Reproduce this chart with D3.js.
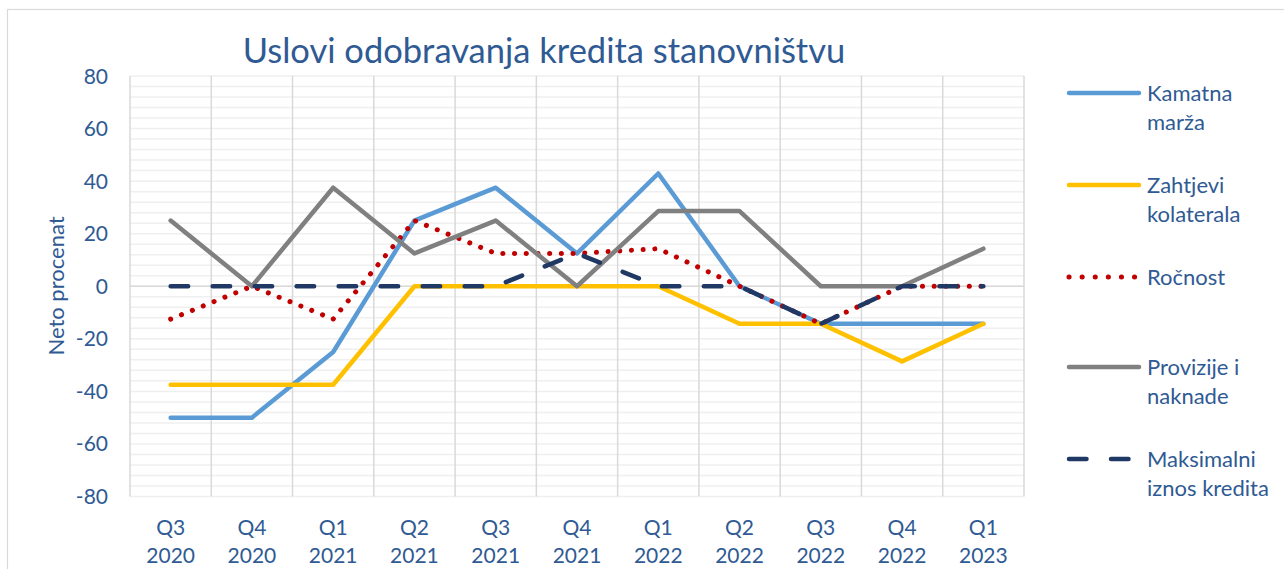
<!DOCTYPE html>
<html>
<head>
<meta charset="utf-8">
<script src="https://cdn.jsdelivr.net/npm/d3@7"></script>
<style>
  html, body { margin: 0; padding: 0; background: #fff; }
  svg { display: block; font-family: Lato, 'Open Sans', sans-serif; }
</style>
</head>
<body>
<div id="chart"></div>
<script>
// Uslovi odobravanja kredita stanovništvu — neto procenat po kvartalima
const quarters = ['Q3', 'Q4', 'Q1', 'Q2', 'Q3', 'Q4', 'Q1', 'Q2', 'Q3', 'Q4', 'Q1'];
const years    = ['2020', '2020', '2021', '2021', '2021', '2021', '2022', '2022', '2022', '2022', '2023'];
const yTicks   = [80, 60, 40, 20, 0, -20, -40, -60, -80];

const kamatnaMarza    = [-50, -50, -25, 25, 37.5, 12.5, 42.9, 0, -14.3, -14.3, -14.3];
const zahtjeviKolat   = [-37.5, -37.5, -37.5, 0, 0, 0, 0, -14.3, -14.3, -28.6, -14.3];
const rocnost         = [-12.5, 0, -12.5, 25, 12.5, 12.5, 14.3, 0, -14.3, 0, 0];
const provizije       = [25, 0, 37.5, 12.5, 25, 0, 28.6, 28.6, 0, 0, 14.3];
const maksimalniIznos = [0, 0, 0, 0, 0, 12.5, 0, 0, -14.3, 0, 0];

const seriesNames = [['Kamatna', 'marža'], ['Zahtjevi', 'kolaterala'], ['Ročnost'],
                     ['Provizije i', 'naknade'], ['Maksimalni', 'iznos kredita']];

(function () {
  'use strict';
  const W = 1284, H = 569;
  const TXT = '#2f5a93';
  const plot = { left: 130, right: 1024, top: 76, bottom: 496.5 };

  const series = [
    { name: seriesNames[0], values: kamatnaMarza,    color: '#5b9bd5', dash: null },
    { name: seriesNames[1], values: zahtjeviKolat,   color: '#ffc000', dash: null },
    { name: seriesNames[2], values: rocnost,         color: '#c00000', dash: '0.1,11.6', width: 5 },
    { name: seriesNames[3], values: provizije,       color: '#808080', dash: null },
    { name: seriesNames[4], values: maksimalniIznos, color: '#203864', dash: '17.5,24.5' },
  ];
  const legendY = [93, 185, 277, 367, 459];

  const svg = d3.select('#chart').append('svg').attr('width', W).attr('height', H);

  // outer chart border (runs off right and bottom edges)
  svg.append('rect').attr('x', 7.5).attr('y', 9.5).attr('width', W).attr('height', H)
    .attr('fill', 'none').attr('stroke', '#d9d9d9').attr('stroke-width', 1.2);

  const x = d3.scaleBand().domain(d3.range(quarters.length)).range([plot.left, plot.right]);
  const y = d3.scaleLinear().domain([-80, 80]).range([plot.bottom, plot.top]);

  // minor horizontal gridlines every 4
  svg.append('g').selectAll('line').data(d3.range(-80, 81, 4)).enter().append('line')
    .attr('x1', plot.left).attr('x2', plot.right)
    .attr('y1', d => y(d)).attr('y2', d => y(d))
    .attr('stroke', '#efefef').attr('stroke-width', 1.5);

  // vertical category gridlines
  const bounds = d3.range(quarters.length + 1).map(i => i < quarters.length ? x(i) : x(i - 1) + x.bandwidth());
  svg.append('g').selectAll('line').data(bounds).enter().append('line')
    .attr('x1', d => d).attr('x2', d => d)
    .attr('y1', plot.top).attr('y2', plot.bottom)
    .attr('stroke', '#d9d9d9').attr('stroke-width', 1.5);

  // zero axis
  svg.append('line').attr('x1', plot.left).attr('x2', plot.right)
    .attr('y1', y(0)).attr('y2', y(0)).attr('stroke', '#d9d9d9').attr('stroke-width', 1.5);

  // y tick labels
  svg.append('g').selectAll('text').data(yTicks).enter().append('text')
    .attr('x', 108).attr('y', d => y(d) + 7.5).attr('text-anchor', 'end')
    .style('font-size', '21px').style('fill', TXT).text(d => d);

  // x tick labels (two lines)
  const xl = svg.append('g').selectAll('text').data(quarters).enter().append('text')
    .attr('text-anchor', 'middle').style('font-size', '21px').style('fill', TXT);
  xl.append('tspan').attr('x', (d, i) => x(i) + x.bandwidth() / 2).attr('y', 534.5).text(d => d);
  xl.append('tspan').attr('x', (d, i) => x(i) + x.bandwidth() / 2).attr('y', 562.5).text((d, i) => years[i]);

  // y axis title
  svg.append('text').attr('transform', 'translate(64,286) rotate(-90)')
    .attr('text-anchor', 'middle').style('font-size', '22px').style('fill', TXT).text('Neto procenat');

  // title
  svg.append('text').attr('x', 544).attr('y', 63).attr('text-anchor', 'middle')
    .style('font-size', '34.5px').style('fill', TXT).text('Uslovi odobravanja kredita stanovništvu');

  // lines
  const line = d3.line().x((d, i) => x(i) + x.bandwidth() / 2).y(d => y(d));
  series.forEach(s => {
    svg.append('path').datum(s.values).attr('d', line)
      .attr('fill', 'none').attr('stroke', s.color).attr('stroke-width', s.width || 4.5)
      .attr('stroke-linejoin', 'round').attr('stroke-linecap', 'round')
      .attr('stroke-dasharray', s.dash);
  });

  // legend
  const lg = svg.append('g').selectAll('g').data(series).enter().append('g')
    .attr('transform', (d, i) => `translate(0,${legendY[i]})`);
  lg.append('line').attr('x1', 1069).attr('x2', 1139).attr('y1', 0).attr('y2', 0)
    .attr('stroke', d => d.color).attr('stroke-width', d => d.width || 4.5)
    .attr('stroke-linecap', 'round')
    .attr('stroke-dasharray', (d, i) => i === 2 ? '0.1,13' : d.dash);
  lg.each(function (d) {
    const t = d3.select(this).append('text').style('font-size', '22px').style('fill', TXT);
    d.name.forEach((ln, k) => {
      t.append('tspan').attr('x', 1147).attr('y', 7.5 + k * 29).text(ln);
    });
  });
})();
</script>
</body>
</html>
